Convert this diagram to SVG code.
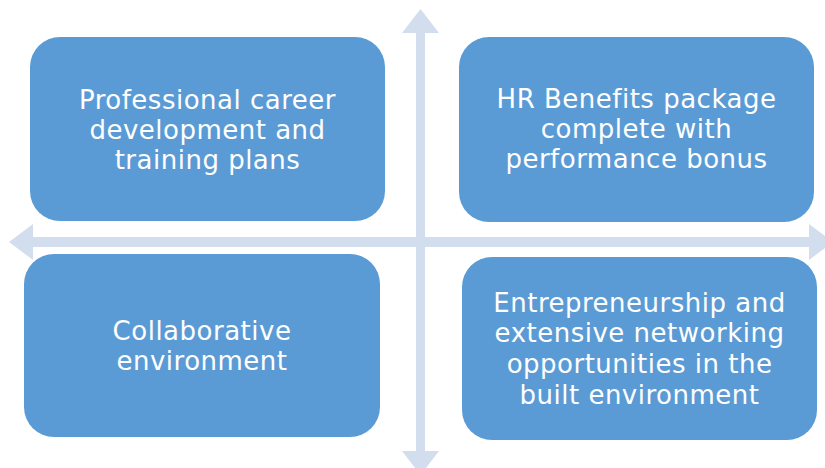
<svg xmlns="http://www.w3.org/2000/svg" width="825" height="468" viewBox="0 0 825 468">
<style>
.box{fill:#5B9BD5;}
.arrow{fill:#D2DDEE;}
.lbl{font-family:"DejaVu Sans","Liberation Sans",sans-serif;font-size:26px;fill:#FFFFFF;text-anchor:middle;letter-spacing:0.5px;}
</style>
<rect width="825" height="468" fill="#FFFFFF"/>
<g id="connectors">
<polygon class="arrow" points="420.5,9 439,33 425,33 425,451 439,451 420.5,475 402,451 416,451 416,33 402,33"/>
<polygon class="arrow" points="9,242 33,224 33,237 809,237 809,224 833,242 809,260 809,247 33,247 33,260"/>
</g>
<g id="node-tl">
<rect class="box" x="30" y="37" width="355" height="184" rx="30" ry="30"/>
<text class="lbl" x="207.5" y="109">Professional career</text>
<text class="lbl" x="207.5" y="139">development and</text>
<text class="lbl" x="207.5" y="169">training plans</text>
</g>
<g id="node-tr">
<rect class="box" x="459" y="37" width="355" height="185" rx="30" ry="30"/>
<text class="lbl" x="636.5" y="108">HR Benefits package</text>
<text class="lbl" x="636.5" y="138">complete with</text>
<text class="lbl" x="636.5" y="168">performance bonus</text>
</g>
<g id="node-bl">
<rect class="box" x="24" y="254" width="356" height="183" rx="30" ry="30"/>
<text class="lbl" x="202" y="340">Collaborative</text>
<text class="lbl" x="202" y="370">environment</text>
</g>
<g id="node-br">
<rect class="box" x="462" y="257" width="355" height="183" rx="30" ry="30"/>
<text class="lbl" x="639.5" y="312">Entrepreneurship and</text>
<text class="lbl" x="639.5" y="342">extensive networking</text>
<text class="lbl" x="639.5" y="373">opportunities in the</text>
<text class="lbl" x="639.5" y="404">built environment</text>
</g>
</svg>
